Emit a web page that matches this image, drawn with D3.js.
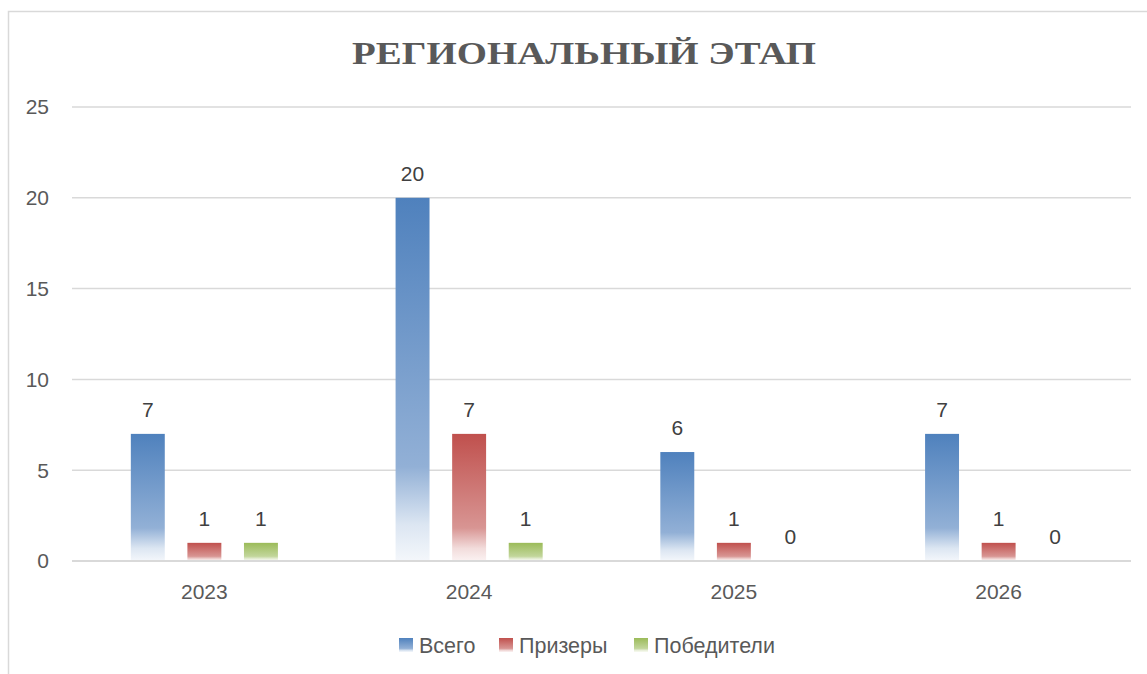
<!DOCTYPE html>
<html>
<head>
<meta charset="utf-8">
<script src="https://cdn.jsdelivr.net/npm/d3@7"></script>
<style>
  body { margin: 0; background: #fff; }
  text { font-family: "Liberation Sans", Arial, sans-serif; fill: #595959; }
</style>
</head>
<body>
<svg id="chart"></svg>
<script>
// chart values
const years = ['2023', '2024', '2025', '2026'];
const seriesNames = ['Всего', 'Призеры', 'Победители'];
const total = [7, 20, 6, 7];
const prize = [1, 7, 1, 1];
const winners = [1, 1, 0, 0];
const yTicks = [0, 5, 10, 15, 20, 25];
const title = 'РЕГИОНАЛЬНЫЙ ЭТАП';

const colors = {
  'Всего': ['#4f81bd', '#92b0d6', '#dce6f2', '#f4f7fb'],
  'Призеры': ['#c0504d', '#d89593', '#f2dcdb', '#fbf2f2'],
  'Победители': ['#9bbb59', '#c2d69b', '#ebf1de', '#f7faf0']
};

const W = 1147, H = 674;
const margin = { top: 107, bottom: 113, left: 72, right: 16 };

const svg = d3.select('#chart').attr('width', W).attr('height', H);

// gradients (per bar, top to bottom)
const defs = svg.append('defs');
seriesNames.forEach((s, i) => {
  const g = defs.append('linearGradient')
    .attr('id', 'grad' + i)
    .attr('x1', 0).attr('y1', 0).attr('x2', 0).attr('y2', 1);
  [0, 0.74, 0.9, 1].forEach((o, k) => {
    g.append('stop').attr('offset', o).attr('stop-color', colors[s][k]);
  });
});

// outer frame
svg.append('rect')
  .attr('x', 8.5).attr('y', 11.5)
  .attr('width', W + 20).attr('height', H + 20)
  .attr('fill', 'none')
  .attr('stroke', '#d9d9d9')
  .attr('stroke-width', 1.5);

svg.append('text')
  .attr('x', 584)
  .attr('y', 64)
  .attr('text-anchor', 'middle')
  .attr('textLength', 464)
  .attr('lengthAdjust', 'spacingAndGlyphs')
  .style('font-family', '"Liberation Serif", "Times New Roman", serif')
  .style('font-weight', 'bold')
  .style('font-size', '31px')
  .text(title);

const x0 = d3.scaleBand().domain(years).range([margin.left, W - margin.right]);
const x1 = d3.scaleBand().domain(seriesNames)
  .range([0, x0.bandwidth()])
  .paddingInner(0.4)
  .paddingOuter(1.04);
const y = d3.scaleLinear().domain([0, 25]).range([H - margin.bottom, margin.top]);

// gridlines
svg.append('g')
  .selectAll('line')
  .data(yTicks.filter(d => d > 0))
  .join('line')
  .attr('x1', margin.left).attr('x2', W - margin.right)
  .attr('y1', d => y(d)).attr('y2', d => y(d))
  .attr('stroke', '#d9d9d9')
  .attr('stroke-width', 1.5);

// y labels
svg.append('g')
  .selectAll('text')
  .data(yTicks)
  .join('text')
  .attr('x', 49)
  .attr('y', d => y(d))
  .attr('dy', '0.35em')
  .attr('text-anchor', 'end')
  .style('font-size', '21px')
  .text(d => d);

const rows = [];
years.forEach((yr, i) => {
  rows.push({ year: yr, s: 0, v: total[i] });
  rows.push({ year: yr, s: 1, v: prize[i] });
  rows.push({ year: yr, s: 2, v: winners[i] });
});

svg.append('g')
  .selectAll('rect')
  .data(rows.filter(d => d.v > 0))
  .join('rect')
  .attr('x', d => x0(d.year) + x1(seriesNames[d.s]))
  .attr('y', d => y(d.v))
  .attr('width', x1.bandwidth())
  .attr('height', d => y(0) - y(d.v))
  .attr('fill', d => `url(#grad${d.s})`);

svg.append('g')
  .selectAll('text')
  .data(rows)
  .join('text')
  .attr('x', d => x0(d.year) + x1(seriesNames[d.s]) + x1.bandwidth() / 2)
  .attr('y', d => y(d.v) - 17)
  .attr('text-anchor', 'middle')
  .style('font-size', '21px')
  .style('fill', '#404040')
  .text(d => d.v);

// baseline
svg.append('line')
  .attr('x1', margin.left).attr('x2', W - margin.right)
  .attr('y1', y(0)).attr('y2', y(0))
  .attr('stroke', '#d9d9d9')
  .attr('stroke-width', 2);

// x labels
svg.append('g')
  .selectAll('text')
  .data(years)
  .join('text')
  .attr('x', d => x0(d) + x0.bandwidth() / 2)
  .attr('y', 599)
  .attr('text-anchor', 'middle')
  .style('font-size', '21px')
  .text(d => d);

// legend
const legendX = [399, 499, 634];
const legend = svg.append('g')
  .selectAll('g')
  .data(seriesNames)
  .join('g')
  .attr('transform', (d, i) => `translate(${legendX[i]},645)`);
legend.append('rect')
  .attr('x', 0).attr('y', -7)
  .attr('width', 14).attr('height', 14)
  .attr('fill', (d, i) => `url(#grad${i})`);
legend.append('text')
  .attr('x', 20)
  .attr('dy', '0.35em')
  .style('font-size', '21.5px')
  .text(d => d);
</script>
</body>
</html>
